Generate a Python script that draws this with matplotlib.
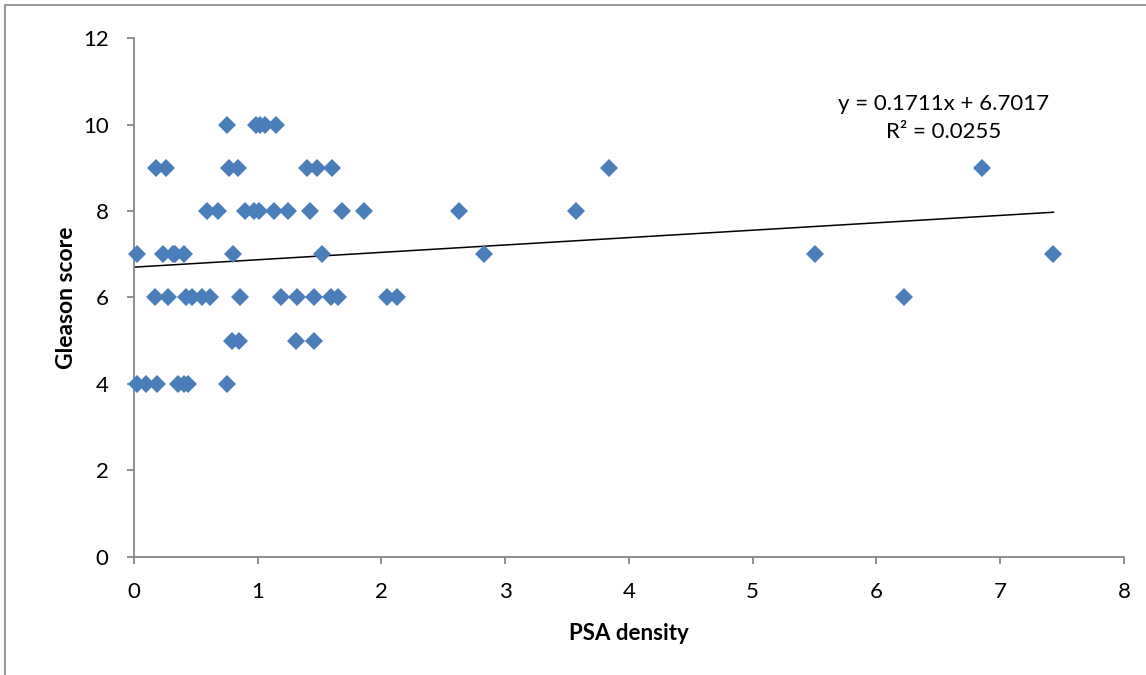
import numpy as np
import matplotlib.pyplot as plt
from matplotlib.patches import Rectangle

plt.rcParams['font.family'] = ['Lato', 'DejaVu Sans']

# PSA density (x) and Gleason score (y)
psa_10 = [0.75, 0.99, 1.02, 1.06, 1.15]
psa_9 = [0.18, 0.26, 0.77, 0.84, 1.40, 1.48, 1.60, 3.84, 6.85]
psa_8 = [0.59, 0.68, 0.90, 0.97, 1.01, 1.13, 1.25, 1.42, 1.68, 1.86, 2.63, 3.57]
psa_7 = [0.03, 0.24, 0.32, 0.33, 0.41, 0.80, 1.52, 2.83, 5.50, 7.43]
psa_6 = [0.17, 0.28, 0.42, 0.47, 0.55, 0.62, 0.86, 1.19, 1.32, 1.46, 1.59, 1.65,
         2.05, 2.13, 6.22]
psa_5 = [0.79, 0.85, 1.31, 1.46]
psa_4 = [0.03, 0.10, 0.19, 0.36, 0.41, 0.44, 0.75]

groups = {10: psa_10, 9: psa_9, 8: psa_8, 7: psa_7, 6: psa_6, 5: psa_5, 4: psa_4}

# trendline as printed on the chart
slope = 0.1711
intercept = 6.7017
r2 = 0.0255

x = np.concatenate([np.array(v) for v in groups.values()])
y = np.concatenate([np.full(len(v), k) for k, v in groups.items()])

fig = plt.figure(figsize=(11.46, 6.75), dpi=100)
ax = fig.add_axes([0.1167, 0.1753, 0.8641, 0.768])

ax.plot(x, y, ls='none', marker='D', markersize=9.5, color='#4a7ebb',
        markeredgewidth=0, zorder=3, clip_on=False)

xt = np.array([0, x.max()])
ax.plot(xt, slope * xt + intercept, color='black', lw=1.1, zorder=2)

ax.set_xlim(0, 8)
ax.set_ylim(0, 12)
ax.set_xticks(range(0, 9))
ax.set_yticks(range(0, 13, 2))

grey = '#868686'
for s in ['top', 'right']:
    ax.spines[s].set_visible(False)
for s in ['left', 'bottom']:
    ax.spines[s].set_color(grey)
    ax.spines[s].set_linewidth(1.3)
ax.tick_params(direction='out', length=5, width=1.3, color=grey,
               labelsize=16, pad=13)

ax.set_xlabel('PSA density', fontsize=16, fontweight='bold', labelpad=15)
ax.set_ylabel('Gleason score', fontsize=16.5, fontweight='bold', labelpad=4)

ax.text(0.818, 0.847, 'y = %.4fx + %.4f\nR² = %.4f' % (slope, intercept, r2),
        transform=ax.transAxes, ha='center', va='center', fontsize=16,
        multialignment='center', linespacing=1.5)

# chart frame (cut off on the right and bottom)
fig.patches.append(Rectangle((5 / 1146, -0.1), 1.2, 1.1 - 5 / 675,
                             transform=fig.transFigure, fill=False,
                             edgecolor=grey, lw=1.2))

fig.savefig('out.png', dpi=100)
